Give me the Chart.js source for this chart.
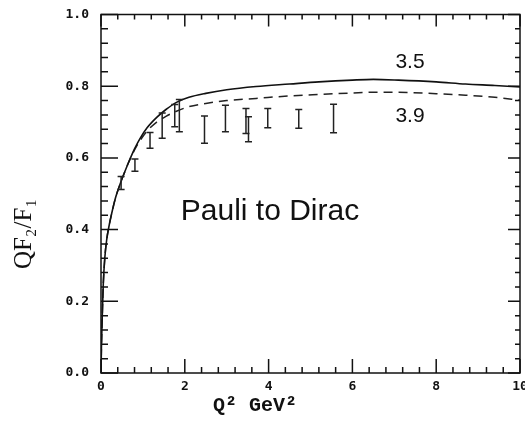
<!DOCTYPE html>
<html>
<head>
<meta charset="utf-8">
<script src="https://cdn.jsdelivr.net/npm/chart.js@4.4.1/dist/chart.umd.min.js"></script>
<style>
html,body{margin:0;padding:0;background:#fff;}
#wrap{width:525px;height:421px;position:relative;}
</style>
</head>
<body>
<div id="wrap"><canvas id="c" width="525" height="421"></canvas></div>
<script>
// Q^2 grid for the model curves (GeV^2)
const q2Grid = [0, 0.01, 0.03, 0.055, 0.09, 0.135, 0.2, 0.255, 0.35, 0.45, 0.53, 0.65, 0.8, 0.93, 1.1, 1.33, 1.55, 1.8, 2.1, 2.5, 3.0, 3.7, 4.5, 5.2, 6.0, 6.5, 7.1, 8.0, 8.7, 9.4, 10];
// curve labelled 3.5 (solid)
const curve35 = [0.0, 0.07, 0.157, 0.25, 0.32, 0.371, 0.415, 0.445, 0.49, 0.525, 0.55, 0.585, 0.625, 0.654, 0.684, 0.713, 0.735, 0.755, 0.769, 0.78, 0.79, 0.799, 0.806, 0.812, 0.817, 0.819, 0.817, 0.812, 0.806, 0.802, 0.798];
// curve labelled 3.9 (dashed)
const curve39 = [0.0, 0.07, 0.157, 0.25, 0.32, 0.371, 0.415, 0.445, 0.49, 0.525, 0.55, 0.585, 0.622, 0.648, 0.675, 0.7, 0.716, 0.73, 0.743, 0.752, 0.76, 0.766, 0.773, 0.777, 0.781, 0.783, 0.783, 0.779, 0.775, 0.769, 0.761];
// measured points with error bars
const dataQ2  = [0.48, 0.81, 1.17, 1.46, 1.76, 1.87, 2.47, 2.97, 3.46, 3.52, 3.98, 4.72, 5.55];
const dataVal = [0.53, 0.58, 0.649, 0.69, 0.718, 0.718, 0.679, 0.71, 0.703, 0.68, 0.711, 0.709, 0.71];
const dataErr = [0.018, 0.017, 0.022, 0.035, 0.031, 0.045, 0.038, 0.037, 0.035, 0.035, 0.027, 0.026, 0.04];
// axis ticks
const xTicks = [0, 2, 4, 6, 8, 10];
const yTicks = [0.0, 0.2, 0.4, 0.6, 0.8, 1.0];

const tickFont = {family: 'DejaVu Sans Mono', size: 13, weight: 'bold'};

const errorBars = {
  id: 'errorBars',
  afterDatasetsDraw(chart) {
    const {ctx, scales: {x, y}} = chart;
    ctx.save();
    ctx.strokeStyle = '#222';
    ctx.lineWidth = 1.5;
    for (let i = 0; i < dataQ2.length; i++) {
      const px = x.getPixelForValue(dataQ2[i]);
      const y1 = y.getPixelForValue(dataVal[i] + dataErr[i]);
      const y2 = y.getPixelForValue(dataVal[i] - dataErr[i]);
      ctx.beginPath();
      ctx.moveTo(px, y1); ctx.lineTo(px, y2);
      ctx.moveTo(px - 3.5, y1); ctx.lineTo(px + 3.5, y1);
      ctx.moveTo(px - 3.5, y2); ctx.lineTo(px + 3.5, y2);
      ctx.stroke();
    }
    ctx.restore();
  }
};

const frame = {
  id: 'frame',
  afterDraw(chart) {
    const {ctx, chartArea: a, scales: {x, y}} = chart;
    ctx.save();
    ctx.strokeStyle = '#111';
    ctx.lineWidth = 1.5;
    ctx.strokeRect(a.left, a.top, a.right - a.left, a.bottom - a.top);
    ctx.beginPath();
    // x ticks every 0.4, major every 2
    for (let k = 0; k <= 25; k++) {
      const v = k * 0.4;
      const px = x.getPixelForValue(v);
      const major = k % 5 === 0;
      const Lb = major ? 14 : 6, Lt = major ? 12 : 5;
      ctx.moveTo(px, a.bottom); ctx.lineTo(px, a.bottom - Lb);
      ctx.moveTo(px, a.top); ctx.lineTo(px, a.top + Lt);
    }
    // y ticks every 0.04, major every 0.2
    for (let k = 0; k <= 25; k++) {
      const v = k * 0.04;
      const py = y.getPixelForValue(v);
      const major = k % 5 === 0;
      const Ll = major ? 17 : 7, Lr = major ? 12 : 5;
      ctx.moveTo(a.left, py); ctx.lineTo(a.left + Ll, py);
      ctx.moveTo(a.right, py); ctx.lineTo(a.right - Lr, py);
    }
    ctx.stroke();
    // annotations
    ctx.fillStyle = '#111';
    ctx.textAlign = 'center';
    ctx.textBaseline = 'alphabetic';
    ctx.font = '30px "Liberation Sans", Arial, sans-serif';
    ctx.fillText('Pauli to Dirac', 270, 220);
    ctx.font = '21px "Liberation Sans", Arial, sans-serif';
    ctx.fillText('3.5', 410, 68);
    ctx.fillText('3.9', 410, 122);
    // x title
    ctx.textAlign = 'left';
    ctx.font = 'bold 20px "Liberation Mono", "Courier New", monospace';
    ctx.fillText('Q\u00B2 GeV\u00B2', 213, 411);
    // y title
    ctx.save();
    ctx.translate(24, 234);
    ctx.rotate(-Math.PI / 2);
    ctx.textAlign = 'center';
    ctx.font = '25px "Liberation Serif", "Times New Roman", serif';
    ctx.textBaseline = 'middle';
    ctx.fillText('QF\u2082/F\u2081', 0, 0);
    ctx.restore();
    ctx.restore();
  }
};

new Chart(document.getElementById('c'), {
  type: 'scatter',
  data: {
    datasets: [
      {
        label: '3.5',
        data: q2Grid.map((q, i) => ({x: q, y: curve35[i]})),
        showLine: true, borderColor: '#111', borderWidth: 1.6,
        pointRadius: 0, cubicInterpolationMode: 'monotone'
      },
      {
        label: '3.9',
        data: q2Grid.map((q, i) => ({x: q, y: curve39[i]})),
        showLine: true, borderColor: '#222', borderWidth: 1.5, borderDash: [9, 6],
        pointRadius: 0, cubicInterpolationMode: 'monotone'
      }
    ]
  },
  options: {
    responsive: false,
    animation: false,
    devicePixelRatio: 1,
    layout: {padding: {left: 0, right: 5, top: 14.5, bottom: 0}},
    plugins: {legend: {display: false}, tooltip: {enabled: false}},
    scales: {
      x: {
        type: 'linear', min: 0, max: 10,
        afterBuildTicks(s) { s.ticks = xTicks.map(v => ({value: v})); },
        ticks: {font: tickFont, color: '#111', padding: 6, maxRotation: 0,
                callback: v => String(v)},
        grid: {display: false, drawTicks: false},
        border: {display: false},
        afterFit(s) { s.height = 48; s.paddingLeft = 0; s.paddingRight = 0; }
      },
      y: {
        type: 'linear', min: 0, max: 1,
        afterBuildTicks(s) { s.ticks = yTicks.map(v => ({value: v})); },
        ticks: {font: tickFont, color: '#111', padding: 12,
                callback: v => Number(v).toFixed(1)},
        grid: {display: false, drawTicks: false},
        border: {display: false},
        afterFit(s) { s.width = 101; s.paddingTop = 0; s.paddingBottom = 0; }
      }
    }
  },
  plugins: [errorBars, frame]
});
</script>
</body>
</html>
